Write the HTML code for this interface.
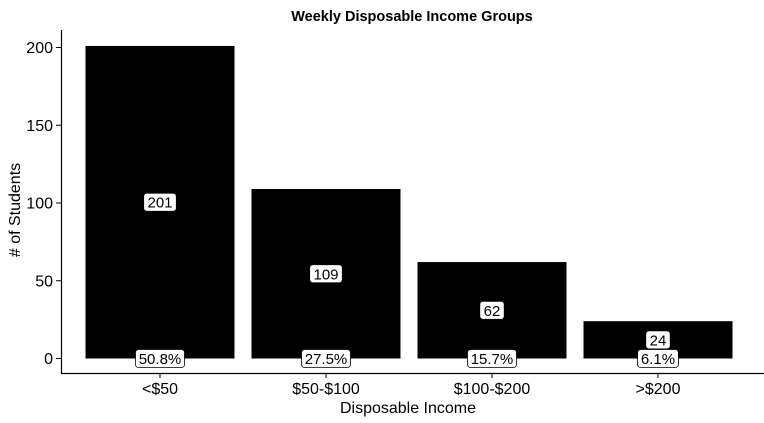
<!DOCTYPE html>
<html><head><meta charset="utf-8"><style>
body{margin:0;background:#fff;}
svg{display:block;font-family:"Liberation Sans",Arial,sans-serif;}
</style></head><body>
<svg id="chart" width="764" height="423">
<text x="412" y="21" text-anchor="middle" font-size="14.5" font-weight="bold">Weekly Disposable Income Groups</text>
<text x="408" y="413" text-anchor="middle" font-size="16">Disposable Income</text>
<text transform="translate(20,210) rotate(-90)" text-anchor="middle" font-size="16"># of Students</text>
<g id="plot"></g>
</svg>
<script>
const categories=["<$50","$50-$100","$100-$200",">$200"];
const counts=[201,109,62,24];
const percents=["50.8%","27.5%","15.7%","6.1%"];
const yTicks=[0,50,100,150,200];
const NS="http://www.w3.org/2000/svg";
const g=document.getElementById('plot');
const y0=358.5,pxPer=311/200;
const y=v=>y0-v*pxPer;
const step=166,x0=77,bw=149;
const xc=i=>x0+step*i+step/2;
function el(t,a){const e=document.createElementNS(NS,t);for(const k in a)e.setAttribute(k,a[k]);g.appendChild(e);return e;}
function label(cx,cy,txt,name){
  const w=txt.length*8.2+8;
  const r=el('rect',{x:cx-w/2,y:cy-9,width:w,height:18,rx:3,fill:'#fff',stroke:'#000','stroke-width':0.8});
  
  
  const t=el('text',{x:cx,y:cy+5.5,'text-anchor':'middle','font-size':15});
  t.textContent=txt;
  
  
}
counts.forEach((v,i)=>{
  const r=el('rect',{x:xc(i)-bw/2,y:y(v),width:bw,height:y0-y(v),fill:'#000'});
  
  
});
counts.forEach((v,i)=>{
  label(xc(i),y(v/2),String(v),'count-label-'+i);
  label(xc(i),y0,percents[i],'percent-label-'+i);
});
const ax=el('path',{d:'M61.5,30 V373.5 H764',fill:'none',stroke:'#000','stroke-width':1.2});


yTicks.forEach(v=>{
  const tk=el('line',{x1:56,x2:61,y1:y(v),y2:y(v),stroke:'#000'});
  
  
  const t=el('text',{x:53,y:y(v)+5.5,'text-anchor':'end','font-size':16});
  t.textContent=v;
  
  
});
categories.forEach((c,i)=>{
  const tk=el('line',{x1:xc(i),x2:xc(i),y1:373,y2:378,stroke:'#000'});
  
  
  const t=el('text',{x:xc(i),y:394,'text-anchor':'middle','font-size':16});
  t.textContent=c;
  
  
});
</script>
</body></html>
